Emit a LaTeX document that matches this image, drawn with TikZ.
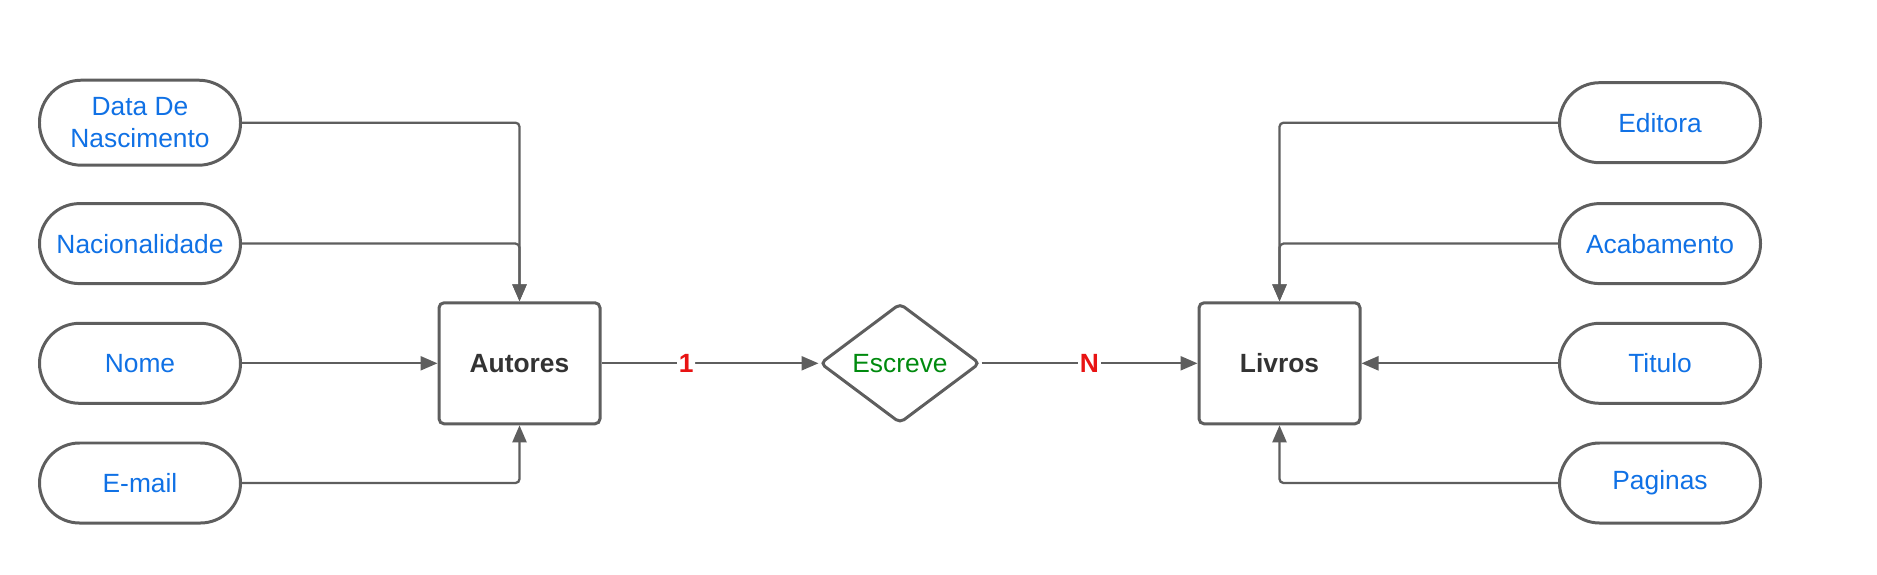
\documentclass[tikz,border=0pt]{standalone}
\usepackage{fontspec}
\setmainfont{Liberation Sans}
\usetikzlibrary{shapes.geometric,arrows.meta}
\definecolor{linegray}{HTML}{5E5E5E}
\definecolor{attrblue}{HTML}{1071E5}
\definecolor{relgreen}{HTML}{008A0E}
\definecolor{cardred}{HTML}{E81313}
\begin{document}
\begin{tikzpicture}[
  font=\fontsize{7.5}{9.2}\selectfont,
  attr/.style={draw=linegray,line width=0.85pt,rounded corners=0.4cm,minimum width=2.01cm,minimum height=0.8cm,text=attrblue,align=center,inner sep=0pt},
  entity/.style={draw=linegray,line width=0.85pt,rounded corners=0.05cm,minimum width=1.61cm,minimum height=1.21cm,text=black!80,font=\fontsize{7.5}{9.2}\selectfont\bfseries},
  rel/.style={draw=linegray,line width=0.85pt,diamond,aspect=1.34,rounded corners=0.05cm,minimum width=1.6cm,minimum height=1.2cm,inner sep=0pt,text=relgreen},
  conn/.style={draw=linegray,line width=0.65pt,rounded corners=0.04cm,-{Triangle[length=1.7mm,width=1.4mm]}},
  card/.style={fill=white,text=cardred,font=\fontsize{7.5}{9.2}\selectfont\bfseries,inner sep=0.5pt}
]
\useasboundingbox (0,0) rectangle (18.77,5.74);

\node[entity] (autores) at (5.195,2.107) {Autores};
\node[rel] (escreve) at (9.00,2.107) {Escreve};
\node[entity] (livros) at (12.795,2.107) {Livros};

\node[attr,minimum height=0.85cm,rounded corners=0.42cm] (nasc) at (1.40,4.513) {Data De\\Nascimento};
\node[attr] (nacio) at (1.40,3.304) {Nacionalidade};
\node[attr] (nome) at (1.40,2.107) {Nome};
\node[attr] (email) at (1.40,0.91) {E-mail};

\node[attr] (editora) at (16.60,4.513) {Editora};
\node[attr] (acab) at (16.60,3.304) {Acabamento};
\node[attr] (titulo) at (16.60,2.107) {Titulo};
\node[attr] (paginas) at (16.60,0.91) {Paginas};

\draw[conn] (nasc.east) -| (autores.north);
\draw[conn] (nacio.east) -| (autores.north);
\draw[conn] (nome.east) -- (autores.west);
\draw[conn] (email.east) -| (autores.south);

\draw[conn] (editora.west) -| (livros.north);
\draw[conn] (acab.west) -| (livros.north);
\draw[conn] (titulo.west) -- (livros.east);
\draw[conn] (paginas.west) -| (livros.south);

\draw[conn] (autores.east) -- node[card,pos=0.39] {1} (escreve.west);
\draw[conn] (escreve.east) -- node[card,pos=0.5] {N} (livros.west);
\end{tikzpicture}
\end{document}
